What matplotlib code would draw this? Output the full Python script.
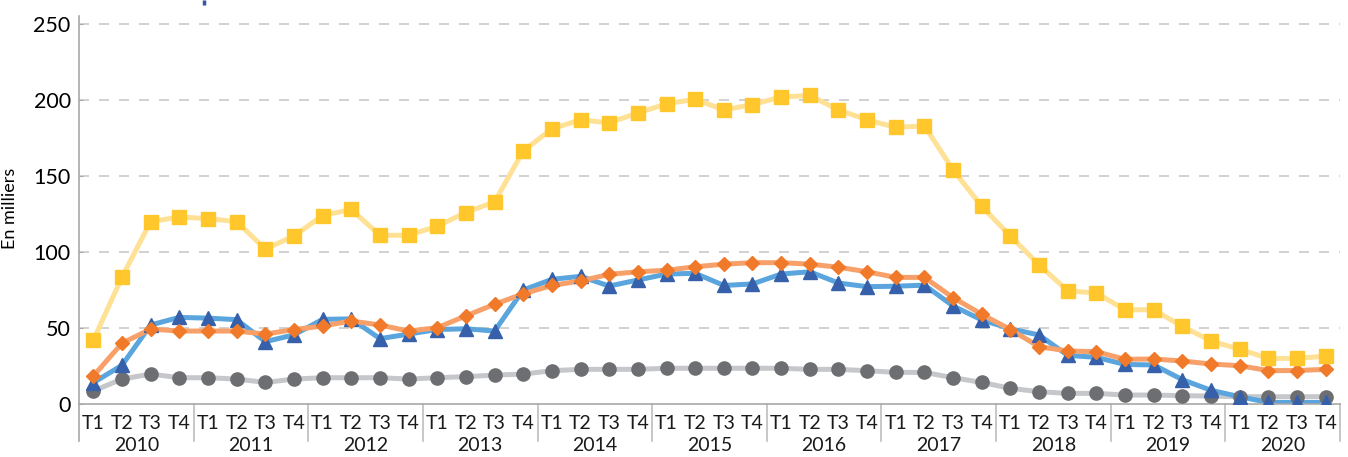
import matplotlib
matplotlib.use("Agg")
import matplotlib.pyplot as plt
import numpy as np

plt.rcParams['font.family'] = ['Lato', 'DejaVu Sans']

# Quarterly data, 2010 T1 .. 2020 T4 (en milliers)
years = [str(y) for y in range(2010, 2021)]
quarters = ["T1", "T2", "T3", "T4"]

serie_jaune = [42, 83.5, 120, 123, 122, 120, 102, 110.5, 124, 128, 111, 111,
               117, 126, 133, 166.5, 181, 187, 185, 191.5, 197.5, 200.5, 193.5, 197,
               202, 203, 193.5, 187, 182, 183, 154, 130, 110.5, 91.5, 74.5, 73,
               62, 62, 51, 41.5, 36, 30, 30, 31.5]
serie_bleue = [14, 25.5, 52, 57, 56.5, 55.5, 41, 45.5, 55.7, 56, 43, 46,
               49, 49.5, 48, 75, 82, 84, 77.6, 81.6, 85.5, 86, 78, 79,
               85.5, 87, 79.6, 77.2, 77.5, 78.2, 64.5, 55.3, 49.5, 45.4, 32, 30.7,
               26, 25.7, 16, 9, 4.8, 1, 1, 1]
serie_orange = [18.4, 40, 49.3, 48, 48, 48, 46, 49, 51.3, 54.6, 52, 48,
                50.2, 58, 65.6, 72.5, 78, 81, 85.3, 87, 88, 90.3, 92, 93,
                93, 92, 90, 87, 83.3, 83.3, 70, 59, 49, 37.7, 34.9, 34.4,
                29.4, 29.6, 28.3, 26.3, 25.2, 22, 22, 22.8]
serie_grise = [8.6, 16.4, 19.7, 17.3, 17.3, 16.4, 14.2, 16.4, 17.3, 17.3, 17.3, 16.4,
               17.3, 18, 19, 19.7, 21.9, 22.8, 22.8, 22.8, 23.5, 23.5, 23.5, 23.5,
               23.5, 22.8, 22.8, 21.9, 20.8, 20.8, 17.3, 14.2, 10.3, 8.1, 7, 7,
               5.9, 5.9, 5.5, 5.2, 4.8, 4.8, 4.8, 4.8]

n = len(years) * len(quarters)
x = np.arange(n)

fig = plt.figure(figsize=(13.48, 4.57), dpi=100)
ax = fig.add_axes([79 / 1348, 1 - 404 / 457, (1340 - 79) / 1348, (404 - 16) / 457])

# grid
for v in [50, 100, 150, 200, 250]:
    ax.axhline(v, color='#C9C9C9', lw=1.2, dashes=(6, 6), zorder=0)

styles = [
    (serie_grise, '#C6C7CA', '#6D6E71', 'o', 9.5),
    (serie_bleue, '#5AA5DD', '#3660AA', '^', 10),
    (serie_orange, '#F7A06A', '#F07A2A', 'D', 7.5),
    (serie_jaune, '#FFE196', '#FFC72C', 's', 10),
]
for vals, lc, mc, mk, ms in styles:
    ax.plot(x, vals, color=lc, lw=3.6, solid_joinstyle='round', zorder=2)
    ax.plot(x, vals, ls='none', marker=mk, ms=ms, color=mc, mec=mc, zorder=3)

ax.set_xlim(-0.5, n - 0.5)
ax.set_ylim(0, 255.3)
ax.set_yticks([0, 50, 100, 150, 200, 250])
ax.tick_params(axis='y', length=3, width=0.8, color='#A8A8A8', direction='in',
               pad=6, labelsize=15.5)
ax.set_xticks([])
for side in ['top', 'right', 'left']:
    ax.spines[side].set_visible(False)
ax.spines['bottom'].set_color('#A8A8A8')
ax.spines['bottom'].set_linewidth(1.2)

trans = ax.get_xaxis_transform()
# left axis line and year separators extending below the axis
ax.plot([-0.5, -0.5], [1.0, -0.095], transform=trans, color='#A8A8A8', lw=1.2,
        clip_on=False, zorder=4)
for k in range(1, len(years) + 1):
    xb = k * 4 - 0.5
    ax.plot([xb, xb], [0, -0.095], transform=trans, color='#BDBDBD', lw=1.2,
            clip_on=False)

for i in range(n):
    ax.text(i, -0.05, quarters[i % 4], transform=trans, ha='center', va='center',
            fontsize=14, color='#1A1A1A')
for k, yr in enumerate(years):
    ax.text(k * 4 + 1.5, -0.108, yr, transform=trans, ha='center', va='center',
            fontsize=14, color='#1A1A1A')

ax.set_ylabel('En milliers', fontsize=13)
ax.yaxis.set_label_coords(-0.0484, 0.505)

# stem of the cut-off title letter above the chart
fig.add_artist(plt.Line2D([203.5 / 1348, 203.5 / 1348], [1.0, 1 - 5 / 457],
                          color='#3A53A4', lw=2.5, solid_capstyle='butt'))

fig.savefig('out.png', dpi=100)
